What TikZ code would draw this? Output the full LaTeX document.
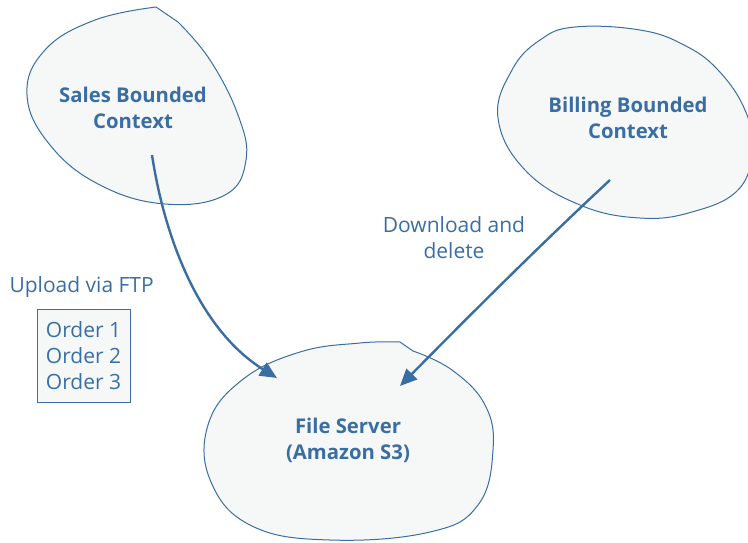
\documentclass[tikz,border=0pt]{standalone}
\usepackage{fontspec}
\setmainfont{Open Sans}
\usetikzlibrary{arrows.meta}
\definecolor{ink}{HTML}{3A6EA3}
\definecolor{paper}{HTML}{F6F8F8}
\begin{document}
\begin{tikzpicture}[x=1pt,y=-1pt,
  blob/.style={draw=ink,line width=1pt,fill=paper},
  title/.style={text=ink,font=\fontsize{20.3}{26}\selectfont\bfseries,align=center},
  lbl/.style={text=ink,font=\fontsize{21}{26}\selectfont,align=center},
  flow/.style={draw=ink,line width=2.4pt,-{Triangle[length=17pt,width=15pt]}}]
\useasboundingbox (0,0) rectangle (748,542);
% blobs
\draw[blob] plot[smooth,tension=0.7] coordinates {(156,7) (95,20) (45,50) (27,95) (50,145) (100,185) (165,204) (225,195) (246,160) (238,115) (210,60) (178,22)} -- cycle;
\draw[blob] plot[smooth cycle,tension=0.7] coordinates {(575,27) (640,30) (684,45) (718,70) (745,110) (752,150) (738,190) (692,212) (640,218) (580,205) (525,170) (498,118) (512,70) (540,40)};
\draw[blob] plot[smooth,tension=0.7] coordinates {(413,351) (452,370) (485,405) (493,450) (478,505) (430,532) (330,540) (252,526) (211,482) (208,425) (242,380) (300,352) (360,343) (400,342)} -- cycle;
% titles
\node[title] (sales) at (133,108) {Sales Bounded\\Context};
\node[title] (billing) at (628,118) {Billing Bounded\\Context};
\node[title] (files) at (348,440) {File Server\\(Amazon S3)};
% labels
\node[lbl] (down) at (454,238) {Download and\\delete};
\node[lbl,anchor=west] (up) at (6,287) {Upload via FTP};
\node[lbl,draw=ink,line width=0.8pt,fill=paper,align=left,minimum width=93pt,minimum height=93pt,inner xsep=6pt] (orders) at (83.5,355.5) {Order 1\\Order 2\\Order 3};
% connectors
\coordinate (s1) at (152,155);
\coordinate (s2) at (277,378);
\coordinate (b1) at (610,180);
\coordinate (b2) at (400,386);
\draw[flow] (s1) .. controls (165,240) and (200,330) .. (s2);
\draw[flow] (b1) .. controls (540,245) and (470,315) .. (b2);
\end{tikzpicture}
\end{document}
